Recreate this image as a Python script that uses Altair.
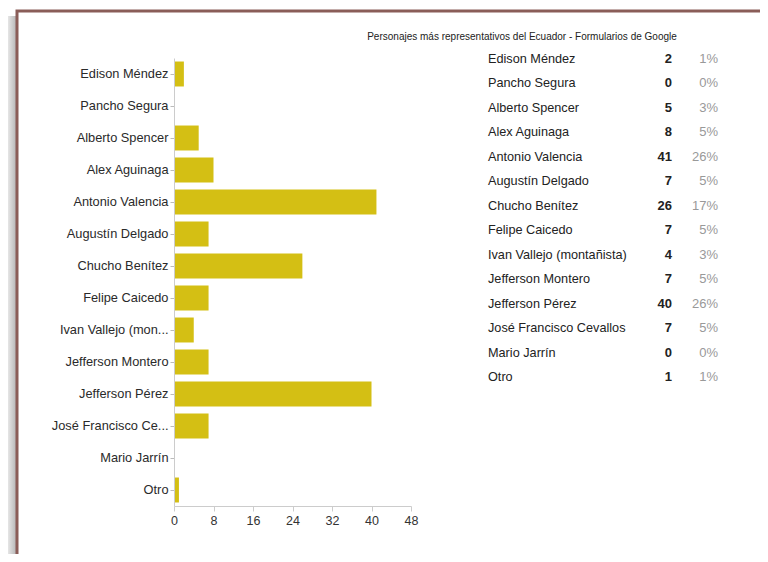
import altair as alt
import pandas as pd

names = ["Edison Méndez", "Pancho Segura", "Alberto Spencer", "Alex Aguinaga",
         "Antonio Valencia", "Augustín Delgado", "Chucho Benítez", "Felipe Caicedo",
         "Ivan Vallejo (montañista)", "Jefferson Montero", "Jefferson Pérez",
         "José Francisco Cevallos", "Mario Jarrín", "Otro"]
counts = [2, 0, 5, 8, 41, 7, 26, 7, 4, 7, 40, 7, 0, 1]
pcts = ["1%", "0%", "3%", "5%", "26%", "5%", "17%", "5%", "3%", "5%", "26%", "5%", "0%", "1%"]
x_ticks = [0, 8, 16, 24, 32, 40, 48]
title_text = "Personajes más representativos del Ecuador - Formularios de Google"

df = pd.DataFrame({"name": names, "count": counts, "pct": pcts})
FONT = "Liberation Sans"

bars = alt.Chart(df).mark_bar(color="#d4bf14").encode(
    x=alt.X("count:Q", scale=alt.Scale(domain=[0, 48], nice=False),
            axis=alt.Axis(values=x_ticks, title=None, grid=False, tickSize=5,
                          domainColor="#cccccc", tickColor="#cccccc",
                          labelColor="#333333", labelFontSize=12.5, labelFont=FONT,
                          labelPadding=3, labelFlush=False, zindex=1)),
    y=alt.Y("name:N", sort=names,
            scale=alt.Scale(paddingInner=0.22, paddingOuter=0.11),
            axis=alt.Axis(title=None, tickSize=4, domainColor="#cccccc",
                          tickColor="#bbbbbb", labelColor="#2a2a2a",
                          labelFontSize=12.8, labelFont=FONT, labelPadding=2,
                          labelLimit=300, zindex=1,
                          labelExpr="length(datum.label) > 20 ? substring(datum.label, 0, 17) + '...' : datum.label")),
)

row_y = alt.Y("name:N", sort=names, scale=alt.Scale(type="point", range=[1, 319], padding=0), axis=None)

tbl_names = alt.Chart(df).mark_text(align="left", baseline="middle", fontSize=12.7,
                                     font=FONT, color="#222222").encode(
    x=alt.value(314), y=row_y, text="name:N")
tbl_counts = alt.Chart(df).mark_text(align="right", baseline="middle", fontSize=13,
                                      font=FONT, fontWeight="bold", color="#222222").encode(
    x=alt.value(498), y=row_y, text="count:Q")
tbl_pcts = alt.Chart(df).mark_text(align="right", baseline="middle", fontSize=13,
                                    font=FONT, color="#999999").encode(
    x=alt.value(544), y=row_y, text="pct:N")

single = pd.DataFrame({"t": [title_text]})
title = alt.Chart(single).mark_text(align="center", baseline="middle", fontSize=10,
                                     font=FONT, color="#222222").encode(
    x=alt.value(348), y=alt.value(-21), text="t:N")

shadow = alt.Chart(single).mark_rect(
    color=alt.Gradient(gradient="linear",
                       stops=[alt.GradientStop(color="#e6e6e6", offset=0),
                              alt.GradientStop(color="#b8b8b8", offset=1)],
                       x1=0, x2=1, y1=0, y2=0)
).encode(x=alt.value(-166), x2=alt.value(-158), y=alt.value(-42), y2=alt.value(600))

frame = alt.Chart(single).mark_rect(fill="white", fillOpacity=0, stroke="#8a5d58",
                                    strokeWidth=3).encode(
    x=alt.value(-157), x2=alt.value(800), y=alt.value(-47), y2=alt.value(600))

chart = alt.layer(shadow, frame, bars, tbl_names, tbl_counts, tbl_pcts, title).resolve_scale(
    y="independent"
).properties(
    width=237, height=448,
    autosize=alt.AutoSizeParams(type="none"),
    padding={"left": 166, "top": 50, "right": 349, "bottom": 48},
).configure_view(stroke=None)

chart.save("out.html", embed_options={"renderer": "svg", "actions": False})
